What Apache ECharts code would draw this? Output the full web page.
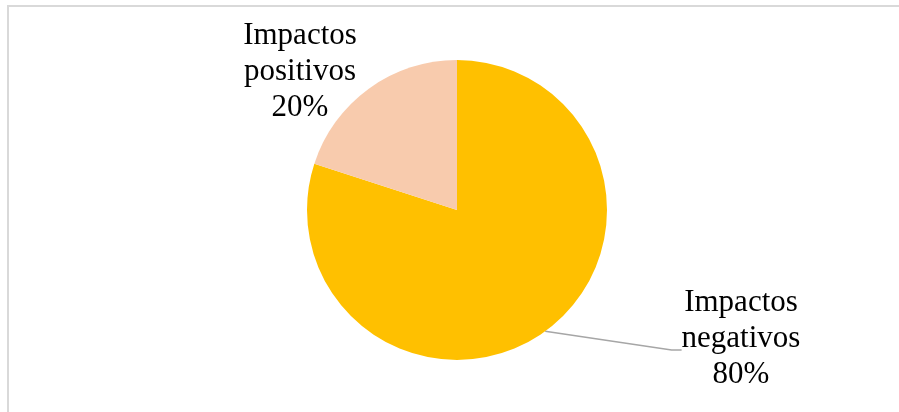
<!DOCTYPE html>
<html>
<head>
<meta charset="utf-8">
<script src="https://cdn.jsdelivr.net/npm/echarts@6/dist/echarts.min.js"></script>
<style>
  html, body { margin: 0; padding: 0; background: #fff; }
  #chart { width: 899px; height: 412px; }
</style>
</head>
<body>
<div id="chart"></div>
<script>
// Data
const categories = ['Impactos negativos', 'Impactos positivos'];
const values = [80, 20];
const colors = ['#FFC000', '#F8CBAD'];

const chart = echarts.init(document.getElementById('chart'), null, { renderer: 'canvas' });

const labelPos = [
  { x: 741, y: 350 },
  { x: 300, y: 72 }
];

const seriesData = categories.map((name, i) => ({
  name: name,
  value: values[i],
  itemStyle: { color: colors[i] },
  labelLine: { show: i === 0 }
}));

chart.setOption({
  animation: false,
  backgroundColor: '#ffffff',
  graphic: [{
    type: 'rect',
    shape: { x: 8, y: 6, width: 900, height: 420 },
    style: { fill: 'none', stroke: '#d9d9d9', lineWidth: 2 },
    silent: true
  }],
  series: [{
    type: 'pie',
    center: [457, 210],
    radius: 150,
    startAngle: 90,
    clockwise: true,
    itemStyle: { borderWidth: 0 },
    label: {
      show: true,
      position: 'outside',
      fontFamily: 'Liberation Serif',
      fontSize: 31,
      lineHeight: 36,
      color: '#000000',
      align: 'center',
      rich: {
        t: { fontFamily: 'Liberation Serif', fontSize: 31, lineHeight: 36, color: '#000000' },
        sp: { fontSize: 4, lineHeight: 22, height: 22 }
      },
      formatter: function (p) {
        const lines = p.name.split(' ').concat([Math.round(p.percent) + '%']);
        let s = lines.map(l => '{t|' + l + '}').join('\n');
        if (p.dataIndex === 0) s += '\n{sp| }';
        return s;
      }
    },
    labelLine: {
      show: true,
      length: 20,
      length2: 10,
      lineStyle: { color: '#a6a6a6', width: 1.5 }
    },
    labelLayout: function (params) {
      const p = labelPos[params.dataIndex];
      return { x: p.x, y: p.y, align: 'center', verticalAlign: 'middle' };
    },
    data: seriesData
  }]
});
</script>
</body>
</html>
